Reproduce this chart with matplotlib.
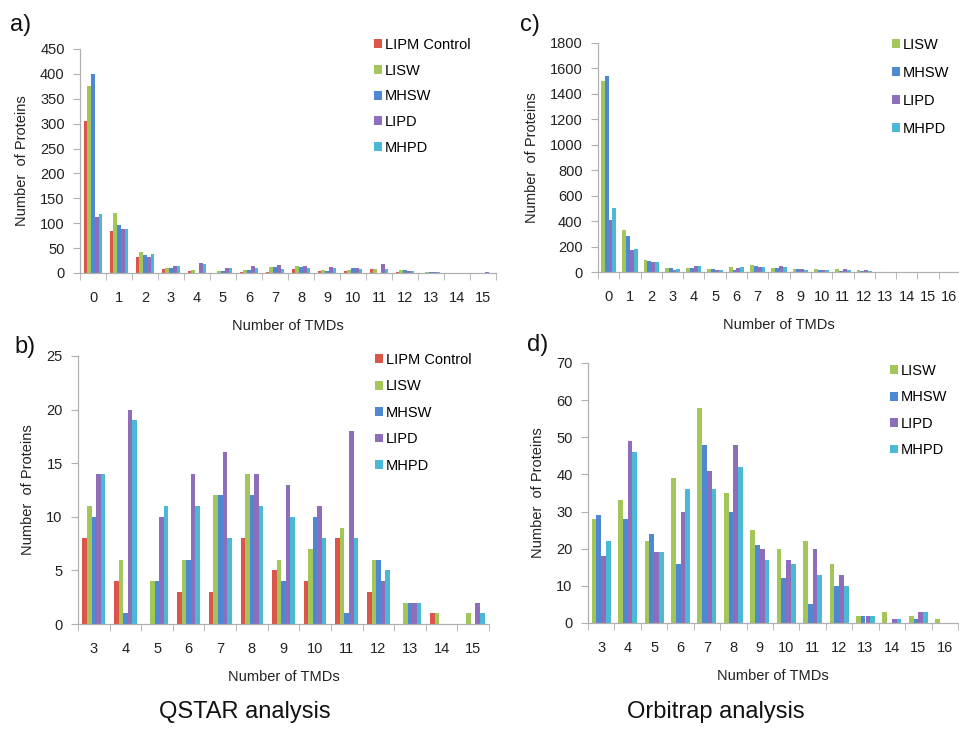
import numpy as np
import matplotlib
matplotlib.use("Agg")
import matplotlib.pyplot as plt
from matplotlib.patches import Patch

plt.rcParams['font.family'] = ['Liberation Sans', 'DejaVu Sans']

# QSTAR series (panel a: 0-15 TMDs, panel b: 3-15 TMDs)
qstar_names = ["LIPM Control", "LISW", "MHSW", "LIPD", "MHPD"]
qstar_tmd = list(range(0, 16))
lipm_control = [305, 85, 33, 8, 4, 0, 3, 3, 8, 5, 4, 8, 3, 0, 1, 0]
q_lisw = [375, 120, 43, 11, 6, 4, 6, 12, 14, 6, 7, 9, 6, 2, 1, 1]
q_mhsw = [400, 96, 36, 10, 1, 4, 6, 12, 12, 4, 10, 1, 6, 2, 0, 0]
q_lipd = [113, 88, 33, 14, 20, 10, 14, 16, 14, 13, 11, 18, 4, 2, 0, 2]
q_mhpd = [118, 88, 39, 14, 19, 11, 11, 8, 11, 10, 8, 8, 5, 2, 0, 1]

# Orbitrap series (panel c: 0-16 TMDs, panel d: 3-16 TMDs)
orbi_names = ["LISW", "MHSW", "LIPD", "MHPD"]
orbi_tmd = list(range(0, 17))
o_lisw = [1500, 330, 95, 28, 33, 22, 39, 58, 35, 25, 20, 22, 16, 2, 3, 2, 1]
o_mhsw = [1540, 285, 90, 29, 28, 24, 16, 48, 30, 21, 12, 5, 10, 2, 0, 1, 0]
o_lipd = [410, 170, 75, 18, 49, 19, 30, 41, 48, 20, 17, 20, 13, 2, 1, 3, 0]
o_mhpd = [500, 180, 80, 22, 46, 19, 36, 36, 42, 17, 16, 13, 10, 2, 1, 3, 0]

colors = {"LIPM Control": "#DB5548", "LISW": "#A3C65A", "MHSW": "#4E87D2",
          "LIPD": "#8E6EBA", "MHPD": "#4BB9D6"}

W, H = 959, 733
fig = plt.figure(figsize=(W / 100, H / 100), dpi=100)


def px_axes(left, right, top, bottom):
    return fig.add_axes([left / W, 1 - bottom / H, (right - left) / W, (bottom - top) / H])


def bar_panel(ax, cats, series, names, ymax, ystep, start):
    idx = [i for i, c in enumerate(cats) if c >= start]
    x = np.arange(len(idx))
    n = len(names)
    group = 0.72
    w = group / n
    for k, (name, vals) in enumerate(zip(names, series)):
        v = [vals[i] for i in idx]
        ax.bar(x - group / 2 + w * (k + 0.5), v, width=w, color=colors[name], linewidth=0)
    ax.set_xlim(-0.5, len(idx) - 0.5)
    ax.set_ylim(0, ymax)
    ax.set_yticks(np.arange(0, ymax + 1, ystep))
    ax.set_xticks(x)
    ax.set_xticklabels([str(cats[i]) for i in idx])
    ax.set_xticks(np.arange(len(idx) + 1) - 0.5, minor=True)
    ax.tick_params(axis='x', which='major', length=0, pad=13, labelsize=10.5, colors='#222222')
    ax.tick_params(axis='x', which='minor', length=5, color='#b0b0b0', direction='out')
    ax.tick_params(axis='y', length=5, color='#b0b0b0', labelsize=10.5, labelcolor='#222222', pad=6)
    for s in ['top', 'right']:
        ax.spines[s].set_visible(False)
    for s in ['left', 'bottom']:
        ax.spines[s].set_color('#b0b0b0')
        ax.spines[s].set_linewidth(0.9)
    ax.set_xlabel("Number of TMDs", fontsize=10.5, color='#222222', labelpad=10)
    ax.set_ylabel("Number  of Proteins", fontsize=10.5, color='#222222', labelpad=8)
    ax.patch.set_alpha(0)


def legend(names, x, y, spacing):
    handles = [Patch(facecolor=colors[n], edgecolor='none') for n in names]
    fig.legend(handles, names, loc='upper left', bbox_to_anchor=(x / W, 1 - y / H),
               frameon=False, fontsize=10.5, handlelength=0.55, handleheight=0.55,
               handletextpad=0.2, labelspacing=spacing, borderaxespad=0, borderpad=0)


qseries = [lipm_control, q_lisw, q_mhsw, q_lipd, q_mhpd]
oseries = [o_lisw, o_mhsw, o_lipd, o_mhpd]

ax_a = px_axes(80, 496, 49, 273)
bar_panel(ax_a, qstar_tmd, qseries, qstar_names, 450, 50, 0)
ax_b = px_axes(78, 489, 356, 624)
bar_panel(ax_b, qstar_tmd, qseries, qstar_names, 25, 5, 3)
ax_c = px_axes(598, 960, 43, 272)
bar_panel(ax_c, orbi_tmd, oseries, orbi_names, 1800, 200, 0)
ax_d = px_axes(588, 958, 363, 623)
bar_panel(ax_d, orbi_tmd, oseries, orbi_names, 70, 10, 3)

legend(qstar_names, 374, 38, 0.8)
legend(qstar_names, 375, 353, 0.85)
legend(orbi_names, 892, 38, 0.95)
legend(orbi_names, 890, 364, 0.85)

for lbl, x, y in [("a)", 10, 25), ("b)", 14, 347), ("c)", 520, 25), ("d)", 527, 345)]:
    fig.text(x / W, 1 - y / H, lbl, fontsize=17, va='center', ha='left', color='#111111')

for txt, x in [("QSTAR analysis", 245), ("Orbitrap analysis", 716)]:
    fig.text(x / W, 1 - 712 / H, txt, fontsize=17, ha='center', va='center', color='#111111')

fig.savefig("out.png", dpi=100, facecolor='white')
